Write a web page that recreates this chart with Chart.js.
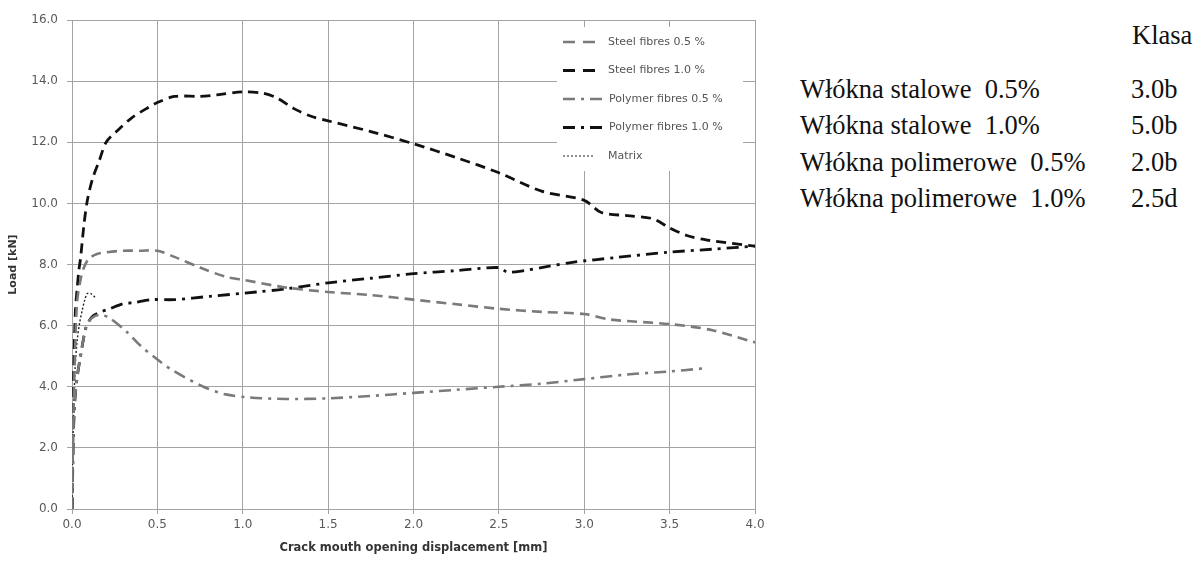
<!DOCTYPE html>
<html lang="pl">
<head>
    <meta charset="UTF-8">
    <title>Load - CMOD</title>
    <script src="https://cdn.jsdelivr.net/npm/chart.js"></script>
    <style>
        body { margin: 0; background: #fff; }
        .page { position: relative; width: 1204px; height: 561px; overflow: hidden; }
        .chart-box { position: absolute; left: 0; top: 0; width: 770px; height: 561px; }
        .klasa { position: absolute; font-family: "Liberation Serif", serif; font-size: 26.5px; color: #111; white-space: pre; line-height: 1; }
    </style>
</head>
<body>
<div class="page">
    <div class="chart-box"><canvas id="cmodChart"></canvas></div>
    <div id="table"></div>
</div>

<script>
    // series: CMOD [mm] / load [kN]
    const seriesLabels = ['Steel fibres 0.5 %', 'Steel fibres 1.0 %', 'Polymer fibres 0.5 %', 'Polymer fibres 1.0 %', 'Matrix'];

    const steel05X = [0, 0.005, 0.01, 0.02, 0.03, 0.05, 0.07, 0.1, 0.15, 0.2, 0.3, 0.4, 0.5, 0.6, 0.75, 0.9, 1.0, 1.25, 1.5, 1.75, 2.0, 2.25, 2.5, 2.75, 3.0, 3.15, 3.5, 3.75, 4.0];
    const steel05Y = [0, 2.0, 3.5, 5.5, 6.8, 7.5, 7.9, 8.2, 8.35, 8.4, 8.45, 8.45, 8.45, 8.25, 7.9, 7.6, 7.5, 7.25, 7.1, 7.0, 6.85, 6.7, 6.55, 6.45, 6.38, 6.2, 6.05, 5.85, 5.45];

    const steel10X = [0, 0.005, 0.01, 0.02, 0.03, 0.04, 0.05, 0.07, 0.09, 0.12, 0.16, 0.2, 0.27, 0.35, 0.45, 0.5, 0.6, 0.75, 0.85, 1.0, 1.12, 1.2, 1.3, 1.4, 1.5, 1.75, 2.0, 2.25, 2.5, 2.75, 3.0, 3.1, 3.25, 3.4, 3.5, 3.6, 3.72, 4.0];
    const steel10Y = [0, 2.5, 4.5, 6.5, 7.2, 7.8, 8.2, 9.3, 10.1, 10.8, 11.4, 12.0, 12.4, 12.8, 13.15, 13.3, 13.5, 13.5, 13.55, 13.65, 13.6, 13.45, 13.1, 12.85, 12.7, 12.35, 11.95, 11.5, 11.0, 10.4, 10.1, 9.7, 9.6, 9.5, 9.2, 8.95, 8.8, 8.6];

    const poly05X = [0, 0.005, 0.01, 0.02, 0.035, 0.05, 0.065, 0.08, 0.1, 0.13, 0.17, 0.22, 0.32, 0.4, 0.51, 0.6, 0.77, 0.9, 1.04, 1.25, 1.5, 1.75, 2.0, 2.25, 2.5, 2.75, 3.0, 3.25, 3.5, 3.7];
    const poly05Y = [0, 1.5, 2.8, 3.8, 4.5, 5.0, 5.5, 5.9, 6.15, 6.3, 6.35, 6.25, 5.8, 5.35, 4.85, 4.5, 4.0, 3.75, 3.65, 3.6, 3.62, 3.7, 3.8, 3.9, 4.0, 4.1, 4.25, 4.4, 4.5, 4.6];

    const poly10X = [0, 0.005, 0.01, 0.02, 0.035, 0.05, 0.065, 0.08, 0.1, 0.125, 0.17, 0.22, 0.3, 0.36, 0.46, 0.6, 0.81, 1.08, 1.25, 1.5, 1.75, 2.0, 2.25, 2.5, 2.55, 2.65, 2.75, 2.93, 3.19, 3.49, 3.75, 4.0];
    const poly10Y = [0, 1.5, 2.8, 3.8, 4.5, 5.0, 5.5, 5.9, 6.15, 6.33, 6.45, 6.55, 6.72, 6.75, 6.85, 6.85, 6.96, 7.1, 7.2, 7.4, 7.55, 7.7, 7.8, 7.9, 7.75, 7.8, 7.9, 8.07, 8.23, 8.4, 8.5, 8.6];

    const matrixX = [0, 0.005, 0.01, 0.018, 0.03, 0.045, 0.06, 0.075, 0.09, 0.11, 0.135];
    const matrixY = [0, 2.0, 3.2, 4.6, 5.5, 6.1, 6.5, 6.85, 7.05, 7.05, 6.93];

    // class table on the right
    const tableRows = ['Włókna stalowe  0.5%', 'Włókna stalowe  1.0%', 'Włókna polimerowe  0.5%', 'Włókna polimerowe  1.0%'];
    const tableClasses = ['3.0b', '5.0b', '2.0b', '2.5d'];

    function toPoints(xs, ys) {
        return xs.map((x, i) => ({ x: x, y: ys[i] }));
    }

    const GRID = '#a3a3a3';
    const TICK = '#595959';

    const styles = [
        { color: '#7a7a7a', width: 2.6, dash: [10, 6] },
        { color: '#111111', width: 2.8, dash: [10, 6] },
        { color: '#7a7a7a', width: 2.6, dash: [12, 6, 3, 6] },
        { color: '#111111', width: 2.8, dash: [12, 6, 3, 6] },
        { color: '#222222', width: 1.4, dash: [2, 2] }
    ];

    const pointSets = [
        toPoints(steel05X, steel05Y),
        toPoints(steel10X, steel10Y),
        toPoints(poly05X, poly05Y),
        toPoints(poly10X, poly10Y),
        toPoints(matrixX, matrixY)
    ];

    const datasets = pointSets.map((pts, i) => ({
        label: seriesLabels[i],
        data: pts,
        showLine: true,
        pointRadius: 0,
        borderColor: styles[i].color,
        borderWidth: styles[i].width,
        borderDash: styles[i].dash,
        tension: 0.3,
        fill: false
    }));

    // legend box drawn inside the plot, top right, like the Excel one
    const insideLegend = {
        id: 'insideLegend',
        afterDatasetsDraw(chart) {
            const ctx = chart.ctx;
            const area = chart.chartArea;
            const boxRight = area.right - 12;
            const boxLeft = boxRight - 186;
            const boxTop = area.top + 7;
            ctx.save();
            ctx.fillStyle = '#fff';
            ctx.fillRect(boxLeft, boxTop, 186, 144);
            ctx.font = '11px "DejaVu Sans"';
            ctx.textBaseline = 'middle';
            chart.data.datasets.forEach((ds, i) => {
                const y = boxTop + 15 + i * 28.5;
                const x0 = boxLeft + 6;
                const isPoly = i === 2 || i === 3;
                const x1 = x0 + (isPoly ? 44 : 32);
                ctx.strokeStyle = ds.borderColor;
                ctx.lineWidth = i === 4 ? 1 : ds.borderWidth;
                ctx.setLineDash(i === 4 ? [2, 2] : (isPoly ? [12, 6, 3, 6] : [12, 8]));
                ctx.beginPath();
                ctx.moveTo(x0, y);
                ctx.lineTo(x1, y);
                ctx.stroke();
                ctx.setLineDash([]);
                ctx.fillStyle = '#555';
                ctx.fillText(ds.label, isPoly ? x1 + 2 : x0 + 45, y);
            });
            ctx.restore();
        }
    };

    const ctx = document.getElementById('cmodChart').getContext('2d');
    new Chart(ctx, {
        type: 'scatter',
        data: { datasets: datasets },
        options: {
            responsive: true,
            maintainAspectRatio: false,
            animation: false,
            layout: { padding: { top: 20, right: 15, left: 0, bottom: 0 } },
            plugins: {
                legend: { display: false },
                tooltip: { enabled: false }
            },
            scales: {
                x: {
                    type: 'linear',
                    min: 0,
                    max: 4,
                    afterFit(scale) { scale.height = 52; },
                    grid: { color: GRID, tickLength: 5, lineWidth: 1 },
                    border: { color: GRID },
                    ticks: {
                        stepSize: 0.5,
                        padding: 4,
                        color: TICK,
                        font: { family: 'DejaVu Sans', size: 12 },
                        callback: v => Number(v).toFixed(1)
                    },
                    title: {
                        display: true,
                        text: 'Crack mouth opening displacement [mm]',
                        color: '#333',
                        font: { family: 'DejaVu Sans', size: 11.5, weight: 'bold' },
                        padding: { top: 0, bottom: 6 }
                    }
                },
                y: {
                    min: 0,
                    max: 16,
                    afterFit(scale) { scale.width = 72; },
                    grid: { color: GRID, tickLength: 5, lineWidth: 1 },
                    border: { color: GRID },
                    ticks: {
                        stepSize: 2,
                        padding: 9,
                        color: TICK,
                        font: { family: 'DejaVu Sans', size: 12 },
                        callback: v => Number(v).toFixed(1)
                    },
                    title: {
                        display: true,
                        text: 'Load [kN]',
                        color: '#333',
                        font: { family: 'DejaVu Sans', size: 11, weight: 'bold' },
                        padding: { top: 7, bottom: 0 }
                    }
                }
            }
        },
        plugins: [insideLegend]
    });

    // right side table
    const table = document.getElementById('table');
    function addText(text, left, top) {
        const d = document.createElement('div');
        d.className = 'klasa';
        d.textContent = text;
        d.style.left = left + 'px';
        d.style.top = top + 'px';
        table.appendChild(d);
    }
    addText('Klasa', 1132, 22);
    tableRows.forEach((row, i) => {
        addText(row, 800, 76 + i * 36.3);
        addText(tableClasses[i], 1131, 76 + i * 36.3);
    });
</script>
</body>
</html>
